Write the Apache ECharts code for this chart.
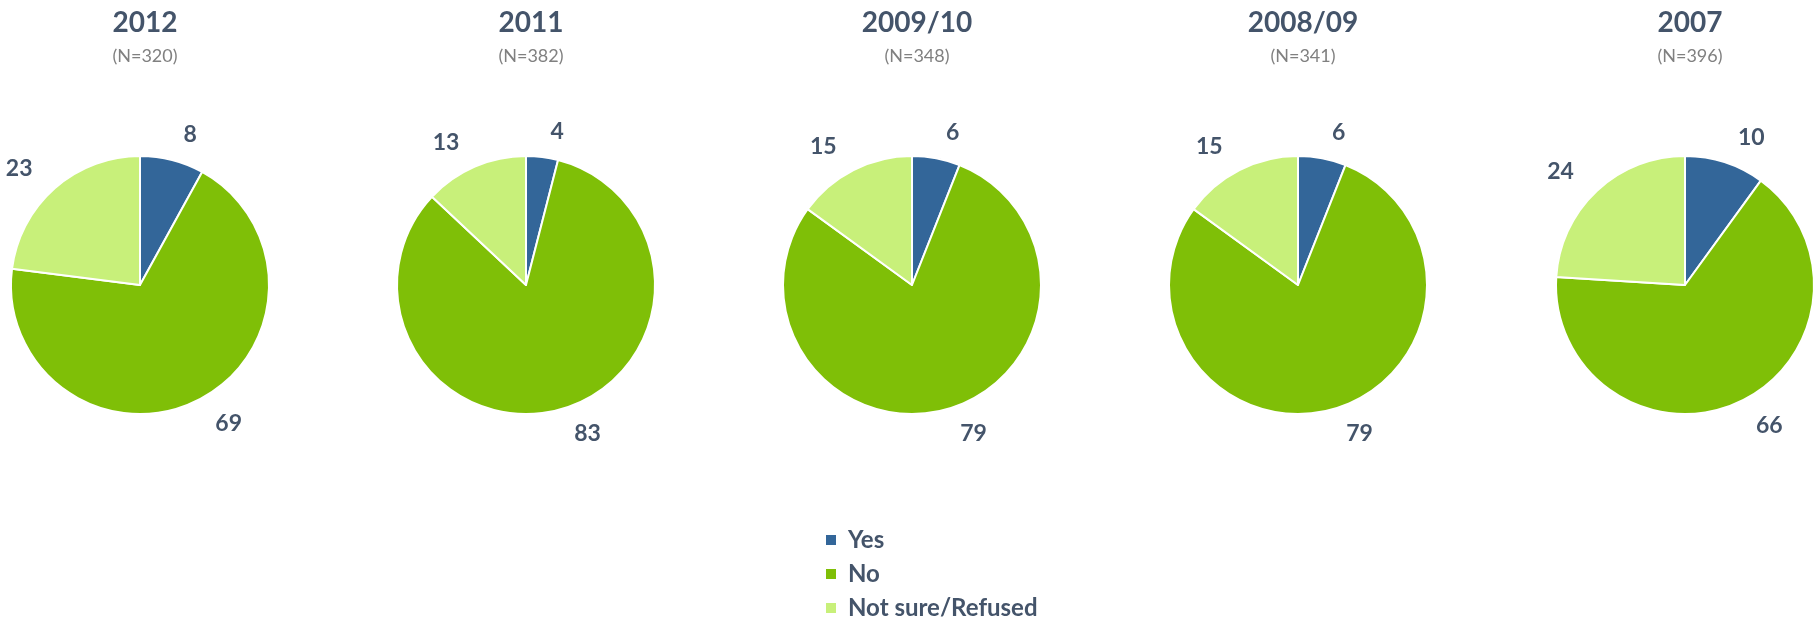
<!DOCTYPE html>
<html lang="en">
<head>
    <meta charset="UTF-8">
    <title>Pies by year</title>
    <style>
        html, body { margin: 0; padding: 0; background: #fff; }
    </style>
</head>
<body>
    <div id="main" style="width: 1820px;height:623px;"></div>
<script src="https://cdn.jsdelivr.net/npm/echarts@6/dist/echarts.min.js"></script>
<script type="text/javascript">
    // data
    const years = ['2012', '2011', '2009/10', '2008/09', '2007'];
    const sampleSizes = ['(N=320)', '(N=382)', '(N=348)', '(N=341)', '(N=396)'];
    const categories = ['Yes', 'No', 'Not sure/Refused'];
    const yesValues = [8, 4, 6, 6, 10];
    const noValues = [69, 83, 79, 79, 66];
    const notSureValues = [23, 13, 15, 15, 24];

    const colors = ['#336699', '#7fbf07', '#c8f07a'];
    const textColor = '#44546a';
    const font = 'Lato';

    // pie centres (x) in pixels
    const centersX = [140, 526, 912, 1298, 1685];
    const centerY = 285;
    const radius = 129;

    var myChart = echarts.init(document.getElementById('main'));

    const titles = years.map(function (y, i) {
        return {
            text: y,
            subtext: sampleSizes[i],
            left: centersX[i],
            top: 4,
            textAlign: 'center',
            itemGap: 10,
            textStyle: { fontFamily: font, fontSize: 28, fontWeight: 'bold', color: textColor },
            subtextStyle: { fontFamily: font, fontSize: 18, color: '#808080' }
        };
    });

    const series = years.map(function (y, i) {
        return {
            name: y,
            type: 'pie',
            center: [centersX[i], centerY],
            radius: radius,
            startAngle: 90,
            clockwise: true,
            avoidLabelOverlap: false,
            itemStyle: { borderColor: '#ffffff', borderWidth: 2 },
            label: {
                show: true,
                position: 'outside',
                formatter: '{c}',
                fontFamily: font,
                fontSize: 23,
                fontWeight: 'bold',
                color: textColor
            },
            labelLine: { show: false, length: 26, length2: 0 },
            emphasis: { disabled: true },
            data: [
                { name: categories[0], value: yesValues[i] },
                { name: categories[1], value: noValues[i] },
                { name: categories[2], value: notSureValues[i] }
            ]
        };
    });

    var option = {
        animation: false,
        color: colors,
        title: titles,
        legend: {
            data: categories,
            orient: 'vertical',
            left: 824,
            top: 528,
            padding: 0,
            icon: 'rect',
            itemWidth: 12,
            itemHeight: 12,
            itemGap: 10,
            textStyle: { fontFamily: font, fontSize: 24, lineHeight: 24, fontWeight: 'bold', color: textColor, padding: [0, 0, 0, 6] }
        },
        series: series
    };
    myChart.setOption(option);
</script>
</body>
</html>
